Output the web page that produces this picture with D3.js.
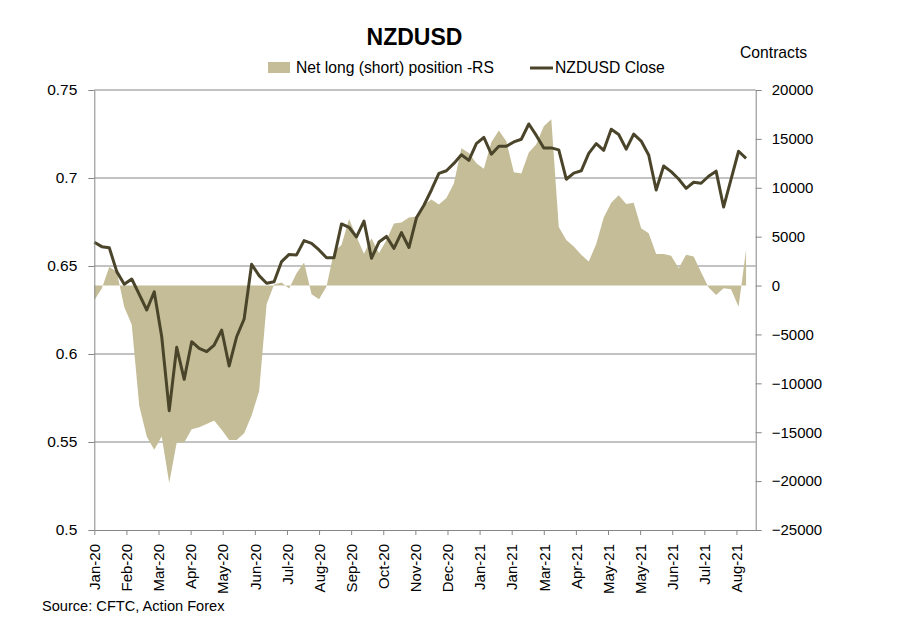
<!DOCTYPE html>
<html>
<head>
<meta charset="utf-8">
<script src="https://cdn.jsdelivr.net/npm/d3@7"></script>
<style>
  body { margin: 0; background: #fff; }
  svg { display: block; font-family: 'Liberation Sans', Arial, sans-serif; }
  .axis path, .axis line { stroke: #868686; }
  .axis text { fill: #000; font-size: 15px; }
  .axis.left text { font-size: 15.5px; }
</style>
</head>
<body>
<svg width="901" height="624"></svg>
<script>
// weekly CFTC report dates
const dates = [
  '2020-01-07', '2020-01-14', '2020-01-21', '2020-01-28', '2020-02-04', '2020-02-11', '2020-02-18', '2020-02-25',
  '2020-03-03', '2020-03-10', '2020-03-17', '2020-03-24', '2020-03-31', '2020-04-07', '2020-04-14', '2020-04-21',
  '2020-04-28', '2020-05-05', '2020-05-12', '2020-05-19', '2020-05-26', '2020-06-02', '2020-06-09', '2020-06-16',
  '2020-06-23', '2020-06-30', '2020-07-07', '2020-07-14', '2020-07-21', '2020-07-28', '2020-08-04', '2020-08-11',
  '2020-08-18', '2020-08-25', '2020-09-01', '2020-09-08', '2020-09-15', '2020-09-22', '2020-09-29', '2020-10-06',
  '2020-10-13', '2020-10-20', '2020-10-27', '2020-11-03', '2020-11-10', '2020-11-17', '2020-11-24', '2020-12-01',
  '2020-12-08', '2020-12-15', '2020-12-22', '2020-12-29', '2021-01-05', '2021-01-12', '2021-01-19', '2021-01-26',
  '2021-02-02', '2021-02-09', '2021-02-16', '2021-02-23', '2021-03-02', '2021-03-09', '2021-03-16', '2021-03-23',
  '2021-03-30', '2021-04-06', '2021-04-13', '2021-04-20', '2021-04-27', '2021-05-04', '2021-05-11', '2021-05-18',
  '2021-05-25', '2021-06-01', '2021-06-08', '2021-06-15', '2021-06-22', '2021-06-29', '2021-07-06', '2021-07-13',
  '2021-07-20', '2021-07-27', '2021-08-03', '2021-08-10', '2021-08-17', '2021-08-24', '2021-08-31', '2021-09-07'
];

// net long (short) position, contracts (right scale)
const netPosition = [
  -1500, -300, 1900, 1400, -2200, -4000, -12300, -15450, -16800, -15450,
  -20200, -16050, -16050, -14700, -14500, -14150, -13800, -14750, -15800, -15800,
  -15100, -13300, -10800, -1900, 100, 300, -300, 1250, 2350, -900,
  -1400, -100, 3500, 4150, 6800, 5000, 3250, 4850, 3300, 4650,
  6350, 6450, 6950, 7050, 8250, 8800, 8300, 8950, 10450, 14050,
  13550, 12500, 11950, 14650, 15850, 14750, 11600, 11450, 13600, 14450,
  16300, 17000, 6000, 4650, 4000, 3150, 2450, 4250, 6950, 8480,
  9230, 8340, 8480, 5860, 5350, 3220, 3220, 3060, 1770, 3150,
  2960, 1350, -200, -960, -280, -380, -2160, 3640
];

// NZDUSD close (left scale)
const nzdusdClose = [
  0.6635, 0.6610, 0.6604, 0.6468, 0.6396, 0.6426, 0.6339, 0.6250, 0.6354, 0.6098,
  0.5678, 0.6038, 0.5856, 0.6070, 0.6032, 0.6013, 0.6051, 0.6136, 0.5932, 0.6098,
  0.6199, 0.6510, 0.6445, 0.6402, 0.6411, 0.6525, 0.6566, 0.6563, 0.6644, 0.6629,
  0.6591, 0.6547, 0.6547, 0.6739, 0.6720, 0.6665, 0.6755, 0.6544, 0.6636, 0.6668,
  0.6600, 0.6690, 0.6605, 0.6774, 0.6845, 0.6932, 0.7026, 0.7041, 0.7083, 0.7132,
  0.7100, 0.7195, 0.7231, 0.7135, 0.7180, 0.7180, 0.7205, 0.7220, 0.7307, 0.7242,
  0.7170, 0.7171, 0.7160, 0.6993, 0.7028, 0.7041, 0.7140, 0.7195, 0.7157, 0.7277,
  0.7247, 0.7164, 0.7249, 0.7210, 0.7131, 0.6932, 0.7068, 0.7036, 0.6994, 0.6941,
  0.6976, 0.6970, 0.7010, 0.7039, 0.6835, 0.6994, 0.7152, 0.7112
];

const tickLabels = [
  'Jan-20', 'Feb-20', 'Mar-20', 'Apr-20', 'May-20', 'Jun-20', 'Jul-20', 'Aug-20', 'Sep-20', 'Oct-20', 'Nov-20',
  'Dec-20', 'Jan-21', 'Jan-21', 'Mar-21', 'Apr-21', 'May-21', 'May-21', 'Jun-21', 'Jul-21', 'Aug-21'
];
const leftTicks = [0.5, 0.55, 0.6, 0.65, 0.7, 0.75];
const rightTicks = [-25000, -20000, -15000, -10000, -5000, 0, 5000, 10000, 15000, 20000];

const areaColor = '#C4BD97';
const lineColor = '#4A452A';

const plotLeft = 94.3;
const plotRight = 755.7;
const plotTop = 90;
const plotBottom = 530;

const parse = d3.timeParse('%Y-%m-%d');
const data = dates.map((d, i) => ({
  date: parse(d),
  pos: netPosition[i],
  close: nzdusdClose[i]
}));

const start = data[0].date;
// excel date axis: major unit 30 days
const tickDates = tickLabels.map((l, i) => d3.timeDay.offset(start, 30 * i));

const x = d3
  .scaleTime()
  .domain([start, d3.timeDay.offset(start, 618)])
  .range([plotLeft, plotRight]);

const yLeft = d3.scaleLinear().domain([0.5, 0.75]).range([plotBottom, plotTop]);
const yRight = d3.scaleLinear().domain([-25000, 20000]).range([plotBottom, plotTop]);

const svg = d3.select('svg');

// gridlines
svg
  .append('g')
  .selectAll('line')
  .data(leftTicks.slice(1))
  .enter()
  .append('line')
  .attr('x1', plotLeft)
  .attr('x2', plotRight)
  .attr('y1', d => yLeft(d))
  .attr('y2', d => yLeft(d))
  .attr('stroke', '#868686')
  .attr('stroke-width', 1);

const area = d3
  .area()
  .x(d => x(d.date))
  .y0(yRight(0))
  .y1(d => yRight(d.pos));

svg
  .append('path')
  .datum(data)
  .attr('d', area)
  .attr('fill', areaColor);

const line = d3
  .line()
  .x(d => x(d.date))
  .y(d => yLeft(d.close));

svg
  .append('path')
  .datum(data)
  .attr('d', line)
  .attr('fill', 'none')
  .attr('stroke', lineColor)
  .attr('stroke-width', 3)
  .attr('stroke-linejoin', 'round');

// axes
svg
  .append('g')
  .attr('class', 'axis left')
  .attr('transform', `translate(${plotLeft},0)`)
  .call(
    d3
      .axisLeft(yLeft)
      .tickValues(leftTicks)
      .tickFormat(d3.format('~g'))
      .tickSize(6)
      .tickSizeOuter(0)
      .tickPadding(11)
  );

svg
  .append('g')
  .attr('class', 'axis right')
  .attr('transform', `translate(${plotRight},0)`)
  .call(
    d3
      .axisRight(yRight)
      .tickValues(rightTicks)
      .tickFormat(d3.format('d'))
      .tickSize(6)
      .tickSizeOuter(0)
      .tickPadding(10)
  );

svg
  .append('g')
  .attr('class', 'axis bottom')
  .attr('transform', `translate(0,${plotBottom})`)
  .call(
    d3
      .axisBottom(x)
      .tickValues(tickDates)
      .tickFormat((d, i) => tickLabels[i])
      .tickSize(5)
      .tickSizeOuter(0)
  )
  .selectAll('text')
  .attr('transform', 'rotate(-90)')
  .attr('x', -14)
  .attr('y', 0)
  .attr('dy', '0.35em')
  .style('text-anchor', 'end');

// titles and legend
svg
  .append('text')
  .attr('x', 414.5)
  .attr('y', 45)
  .attr('text-anchor', 'middle')
  .style('font-size', '23px')
  .style('font-weight', 'bold')
  .text('NZDUSD');

svg
  .append('text')
  .attr('x', 740)
  .attr('y', 58)
  .style('font-size', '15.7px')
  .text('Contracts');

const legend = svg.append('g').style('font-size', '15.7px');

legend
  .append('rect')
  .attr('x', 268)
  .attr('y', 62)
  .attr('width', 22)
  .attr('height', 11)
  .attr('fill', areaColor);

legend
  .append('text')
  .attr('x', 296)
  .attr('y', 73)
  .text('Net long (short) position -RS');

legend
  .append('line')
  .attr('x1', 530)
  .attr('x2', 553)
  .attr('y1', 68)
  .attr('y2', 68)
  .attr('stroke', lineColor)
  .attr('stroke-width', 3);

legend
  .append('text')
  .attr('x', 555)
  .attr('y', 73)
  .text('NZDUSD Close');

svg
  .append('text')
  .attr('x', 42)
  .attr('y', 611)
  .style('font-size', '14.6px')
  .text('Source: CFTC, Action Forex');
</script>
</body>
</html>
